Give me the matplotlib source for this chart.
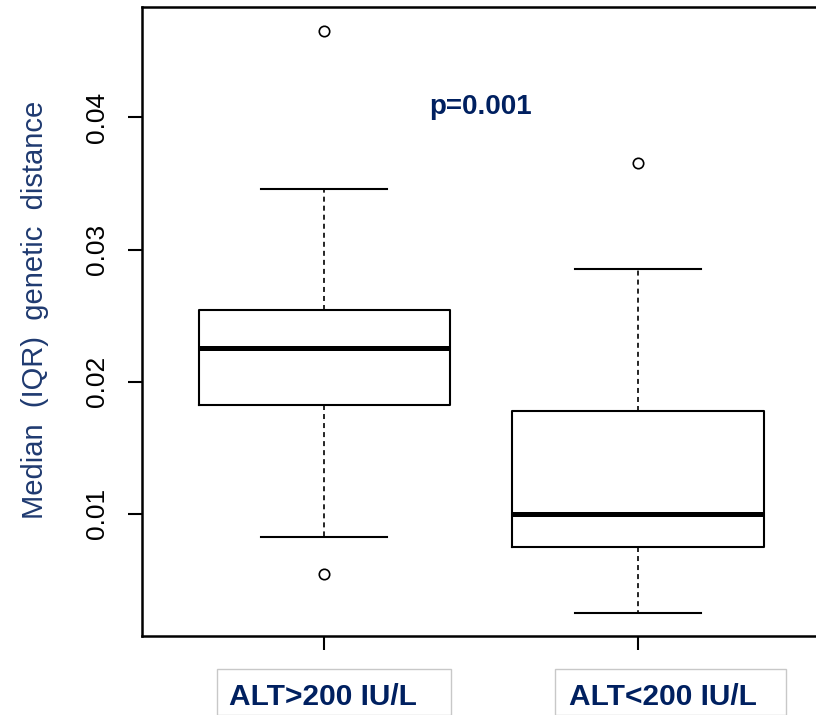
import matplotlib
matplotlib.use("Agg")
import matplotlib.pyplot as plt
from matplotlib.patches import Rectangle

# ---- data ----
groups = ["ALT>200 IU/L", "ALT<200 IU/L"]
q1 = [0.01820, 0.00745]
medians = [0.02252, 0.01000]
q3 = [0.02540, 0.01775]
whis_lo = [0.00820, 0.00245]
whis_hi = [0.03457, 0.02852]
fliers = [[0.00540, 0.04654], [0.03657]]
yticks = [0.01, 0.02, 0.03, 0.04]
ytick_labels = ["0.01", "0.02", "0.03", "0.04"]
p_text = "p=0.001"
ylabel = "Median  (IQR)  genetic  distance"

navy = "#002060"
label_col = "#1f3a70"

plt.rcParams["font.family"] = ["Liberation Sans", "DejaVu Sans"]
plt.rcParams["lines.scale_dashes"] = False

W, H = 816, 715
fig = plt.figure(figsize=(W / 100, H / 100), dpi=100)
ax = fig.add_axes([142 / W, 1 - 636 / H, (820 - 142) / W, (636 - 7) / H])

stats = []
for i in range(len(groups)):
    stats.append(dict(med=medians[i], q1=q1[i], q3=q3[i],
                      whislo=whis_lo[i], whishi=whis_hi[i],
                      fliers=fliers[i], label=groups[i]))

ax.bxp(stats, positions=[1, 2], widths=0.8, showfliers=True,
       boxprops=dict(color="black", linewidth=1.5),
       medianprops=dict(color="black", linewidth=3.6, solid_capstyle="butt"),
       whiskerprops=dict(color="black", linewidth=1.2, linestyle=(0, (3.6, 2.9))),
       capprops=dict(color="black", linewidth=1.5),
       capwidths=0.4,
       flierprops=dict(marker="o", markerfacecolor="none", markeredgecolor="black",
                       markersize=7.5, markeredgewidth=1.2, linestyle="none"))

ax.set_xlim(0.42, 2.58)
ax.set_ylim(0.00074, 0.04836)
ax.set_yticks(yticks)
ax.set_yticklabels(ytick_labels, rotation=90, va="center", fontsize=19)
ax.set_xticks([1, 2])
ax.set_xticklabels(["", ""])
ax.tick_params(axis="both", direction="out", length=10, width=1.5, pad=14)
ax.tick_params(axis="x", pad=2)
for s in ax.spines.values():
    s.set_linewidth(1.8)

# p-value annotation
ax.text(1.5, 0.0408, p_text, ha="center", va="center", fontsize=20,
        fontweight="bold", color=navy)

# y label
fig.text(35 / W, 1 - 310 / H, ylabel, rotation=90, ha="center", va="center",
         fontsize=21, color=label_col)

# group label boxes (overlaid text boxes)
label_boxes = [(217, 451, 323), (555, 786, 663)]
for (x0, x1, xc), g in zip(label_boxes, groups):
    fig.patches.append(Rectangle((x0 / W, 0), (x1 - x0) / W, (H - 669) / H,
                                 transform=fig.transFigure, fill=False,
                                 edgecolor="#c8c8c8", linewidth=1.0))
    fig.text(xc / W, 1 - 705 / H, g, ha="center", va="baseline", fontsize=21.5,
             fontweight="bold", color=navy)

fig.savefig("out.png", dpi=100)
